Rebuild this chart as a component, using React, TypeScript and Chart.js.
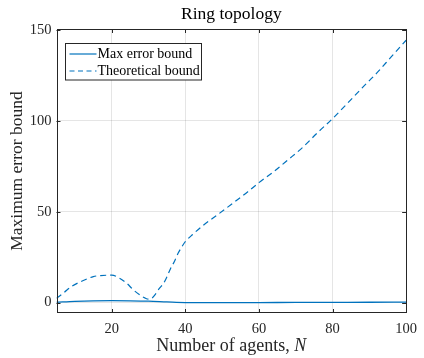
import { useEffect, useRef } from "react";
import { Chart, registerables } from "chart.js";

Chart.register(...registerables);

// Number of agents N (x) and the two error bounds (y)
const theoryN = [5, 7, 9, 12, 15, 17, 20, 22, 24, 26, 28, 29, 30, 31, 32, 33, 34, 35, 36, 37, 38, 39, 40, 42, 45, 49, 53, 57, 60, 64, 68, 72, 76, 80, 84, 88, 92, 96, 100];
const theoryBound = [2.4, 5.5, 8.8, 11.9, 14.3, 14.9, 15.1, 13.6, 10.8, 6.8, 3.8, 2.6, 1.9, 2.6, 5.0, 8.0, 10.3, 14.2, 18.8, 22.5, 27.0, 30.5, 33.5, 37.5, 42.7, 48.7, 54.8, 61.0, 66.0, 72.0, 78.7, 85.6, 93.6, 101.2, 109.5, 118.0, 126.2, 135.3, 144.3];

const maxErrN = [5, 10, 15, 20, 25, 30, 35, 40, 50, 60, 70, 80, 90, 100];
const maxErrBound = [0.2, 0.7, 1.0, 1.1, 1.0, 0.8, 0.4, 0.05, 0.0, 0.05, 0.1, 0.15, 0.2, 0.3];

const xTicks = [20, 40, 60, 80, 100];
const yTicks = [0, 50, 100, 150];

const titleText = "Ring topology";
const xLabelText = "Number of agents, ";
const xLabelVar = "N";
const yLabelText = "Maximum error bound";
const seriesNames = ["Max error bound", "Theoretical bound"];

const LINE_COLOR = "#0072BD";
const AXIS_COLOR = "#262626";
const FONT = "'Liberation Serif', 'Times New Roman', serif";

const decorPlugin = {
  id: "decor",
  afterDraw(chart: any) {
    const { ctx, chartArea: a, scales } = chart;
    const xs = scales.x;
    const ys = scales.y;
    ctx.save();

    // box and inward tick marks
    ctx.strokeStyle = AXIS_COLOR;
    ctx.lineWidth = 1;
    ctx.strokeRect(Math.round(a.left) + 0.5, Math.round(a.top) + 0.5, Math.round(a.right - a.left) - 1, Math.round(a.bottom - a.top) - 1);
    const tl = 4;
    ctx.beginPath();
    for (const v of xTicks) {
      const px = Math.round(xs.getPixelForValue(v)) + 0.5;
      ctx.moveTo(px, a.bottom);
      ctx.lineTo(px, a.bottom - tl);
      ctx.moveTo(px, a.top);
      ctx.lineTo(px, a.top + tl);
    }
    for (const v of yTicks) {
      const py = Math.round(ys.getPixelForValue(v)) + 0.5;
      ctx.moveTo(a.left, py);
      ctx.lineTo(a.left + tl, py);
      ctx.moveTo(a.right, py);
      ctx.lineTo(a.right - tl, py);
    }
    ctx.stroke();

    // title
    ctx.fillStyle = "#000";
    ctx.textAlign = "center";
    ctx.textBaseline = "alphabetic";
    ctx.font = `17.5px ${FONT}`;
    ctx.fillText(titleText, (a.left + a.right) / 2, 19);

    // x label with italic variable
    ctx.fillStyle = AXIS_COLOR;
    ctx.font = `18px ${FONT}`;
    const w1 = ctx.measureText(xLabelText).width;
    ctx.font = `italic 18px ${FONT}`;
    const w2 = ctx.measureText(xLabelVar).width;
    const startX = (a.left + a.right) / 2 - (w1 + w2) / 2;
    ctx.textAlign = "left";
    ctx.font = `18px ${FONT}`;
    ctx.fillText(xLabelText, startX, 351);
    ctx.font = `italic 18px ${FONT}`;
    ctx.fillText(xLabelVar, startX + w1, 351);

    // y label
    ctx.save();
    ctx.translate(22, (a.top + a.bottom) / 2);
    ctx.rotate(-Math.PI / 2);
    ctx.textAlign = "center";
    ctx.font = `17.5px ${FONT}`;
    ctx.fillText(yLabelText, 0, 0);
    ctx.restore();

    // legend
    const lx = 65.5, ly = 43.5, lw = 136, lh = 36.5;
    ctx.fillStyle = "#fff";
    ctx.fillRect(lx, ly, lw, lh);
    ctx.strokeStyle = AXIS_COLOR;
    ctx.lineWidth = 1;
    ctx.strokeRect(lx, ly, lw, lh);
    const rows = [54, 71];
    ctx.strokeStyle = LINE_COLOR;
    ctx.lineWidth = 1.2;
    rows.forEach((ry, i) => {
      ctx.setLineDash(i === 1 ? [5, 3.5] : []);
      ctx.beginPath();
      ctx.moveTo(69.5, ry);
      ctx.lineTo(96.5, ry);
      ctx.stroke();
    });
    ctx.setLineDash([]);
    ctx.fillStyle = "#000";
    ctx.font = `14px ${FONT}`;
    ctx.textAlign = "left";
    ctx.textBaseline = "middle";
    rows.forEach((ry, i) => ctx.fillText(seriesNames[i], 97.5, ry + 0.5));
    ctx.restore();
  },
};

export default function App() {
  const ref = useRef<HTMLCanvasElement | null>(null);

  useEffect(() => {
    document.body.style.margin = "0";
    const canvas = ref.current;
    if (!canvas) return;
    const chart = new Chart(canvas, {
      type: "line",
      data: {
        datasets: [
          {
            label: seriesNames[0],
            data: maxErrN.map((n, i) => ({ x: n, y: maxErrBound[i] })),
            borderColor: LINE_COLOR,
            borderWidth: 1.3,
            pointRadius: 0,
            cubicInterpolationMode: "monotone",
          },
          {
            label: seriesNames[1],
            data: theoryN.map((n, i) => ({ x: n, y: theoryBound[i] })),
            borderColor: LINE_COLOR,
            borderWidth: 1.2,
            borderDash: [6, 4],
            pointRadius: 0,
            cubicInterpolationMode: "monotone",
          },
        ],
      },
      plugins: [decorPlugin],
      options: {
        animation: false,
        responsive: false,
        layout: { padding: { top: 29, right: 11.5, left: 0, bottom: 0 } },
        plugins: { legend: { display: false }, title: { display: false }, tooltip: { enabled: false } },
        scales: {
          x: {
            type: "linear",
            min: 5,
            max: 100,
            afterBuildTicks: (s: any) => { s.ticks = xTicks.map((v) => ({ value: v })); },
            afterFit: (s: any) => { s.height = 45; },
            grid: { color: "rgba(0,0,0,0.1)", drawTicks: false },
            border: { display: false },
            ticks: { color: AXIS_COLOR, font: { family: FONT, size: 14.5 }, padding: 7, maxRotation: 0 },
          },
          y: {
            type: "linear",
            min: -5.7,
            max: 150.5,
            afterBuildTicks: (s: any) => { s.ticks = yTicks.map((v) => ({ value: v })); },
            afterFit: (s: any) => { s.width = 56.5; },
            grid: { color: "rgba(0,0,0,0.1)", drawTicks: false },
            border: { display: false },
            ticks: { color: AXIS_COLOR, font: { family: FONT, size: 14.5 }, padding: 5 },
          },
        },
      },
    });
    return () => chart.destroy();
  }, []);

  return <canvas ref={ref} width={424} height={358} style={{ display: "block" }} />;
}
